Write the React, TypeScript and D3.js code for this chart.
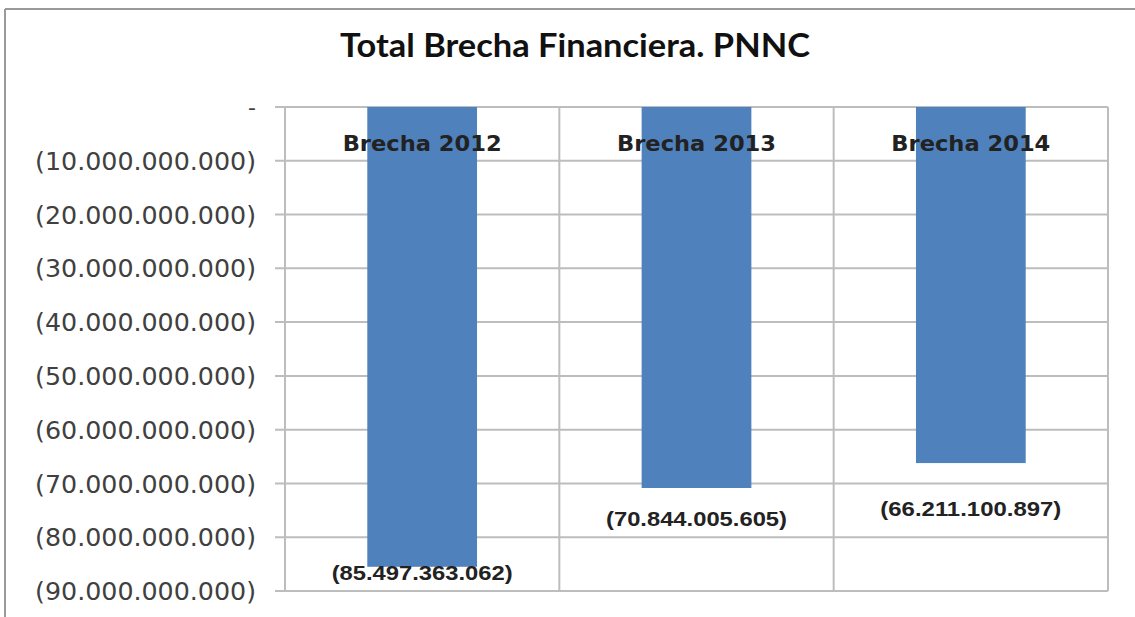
import React from "react";
import * as d3 from "d3";

const title = "Total Brecha Financiera. PNNC";
const categories = ["Brecha 2012", "Brecha 2013", "Brecha 2014"];
const values = [-85497363062, -70844005605, -66211100897];
const valueLabels = ["(85.497.363.062)", "(70.844.005.605)", "(66.211.100.897)"];
const tickValues = [0, -10e9, -20e9, -30e9, -40e9, -50e9, -60e9, -70e9, -80e9, -90e9];
const tickLabels = [
  "-",
  "(10.000.000.000)",
  "(20.000.000.000)",
  "(30.000.000.000)",
  "(40.000.000.000)",
  "(50.000.000.000)",
  "(60.000.000.000)",
  "(70.000.000.000)",
  "(80.000.000.000)",
  "(90.000.000.000)",
];

// layout (not data)
const W = 1135;
const H = 617;
const plot = { left: 285, right: 1108, top: 107, bottom: 591 };
const labelDy = [6, 30, 45];

export default function App() {
  const y = d3.scaleLinear().domain([0, -90e9]).range([plot.top, plot.bottom]);
  const x = d3
    .scaleBand<string>()
    .domain(categories)
    .range([plot.left, plot.right])
    .paddingInner(0.6)
    .paddingOuter(0.3);
  const gridColor = "#bdbdbd";

  return (
    <svg
      width={W}
      height={H}
      style={{ position: "absolute", left: 0, top: 0, background: "#fff" }}
    >
      {/* chart frame */}
      <line x1={5} y1={9} x2={W} y2={9} stroke="#9a9a9a" strokeWidth={2} />
      <line x1={5} y1={9} x2={5} y2={H} stroke="#9a9a9a" strokeWidth={2} />

      <text
        x={575}
        y={57}
        textAnchor="middle"
        fontFamily="Lato, 'Open Sans', sans-serif"
        fontWeight="bold"
        fontSize={33}
        fill="#111"
        textLength={470}
        lengthAdjust="spacingAndGlyphs"
      >
        {title}
      </text>

      {/* horizontal gridlines + ticks */}
      {tickValues.map((t, i) => (
        <g key={"g" + i}>
          <line
            x1={plot.left - 10}
            x2={plot.right}
            y1={y(t)}
            y2={y(t)}
            stroke={gridColor}
            strokeWidth={2}
          />
          <text
            x={256}
            y={y(t)}
            dy="0.36em"
            textAnchor="end"
            fontFamily="'DejaVu Sans', Verdana, sans-serif"
            fontSize={i === 0 ? 22 : 25.3}
            fill="#404040"
          >
            {tickLabels[i]}
          </text>
        </g>
      ))}

      {/* vertical category separators */}
      {d3.range(categories.length + 1).map((i) => {
        const xv = plot.left + (plot.right - plot.left) * (i / categories.length);
        return (
          <line
            key={"v" + i}
            x1={xv}
            x2={xv}
            y1={plot.top}
            y2={plot.bottom}
            stroke={gridColor}
            strokeWidth={2}
          />
        );
      })}

      {/* bars */}
      {categories.map((c, i) => (
        <rect
          key={"b" + i}
          x={x(c)!}
          y={y(0)}
          width={x.bandwidth()}
          height={y(values[i]) - y(0)}
          fill="#4f81bd"
        />
      ))}

      {/* category labels */}
      {categories.map((c, i) => (
        <text
          key={"c" + i}
          x={x(c)! + x.bandwidth() / 2}
          y={143}
          dy="0.36em"
          textAnchor="middle"
          fontFamily="'DejaVu Sans', Verdana, sans-serif"
          fontWeight="bold"
          fontSize={22}
          fill="#222"
          textLength={159}
          lengthAdjust="spacingAndGlyphs"
        >
          {c}
        </text>
      ))}

      {/* value labels */}
      {categories.map((c, i) => (
        <text
          key={"l" + i}
          x={x(c)! + x.bandwidth() / 2}
          y={y(values[i]) + labelDy[i]}
          dy="0.36em"
          textAnchor="middle"
          fontFamily="'Liberation Sans', Arial, sans-serif"
          fontWeight="bold"
          fontSize={21}
          fill="#222"
          textLength={181}
          lengthAdjust="spacingAndGlyphs"
        >
          {valueLabels[i]}
        </text>
      ))}
    </svg>
  );
}
